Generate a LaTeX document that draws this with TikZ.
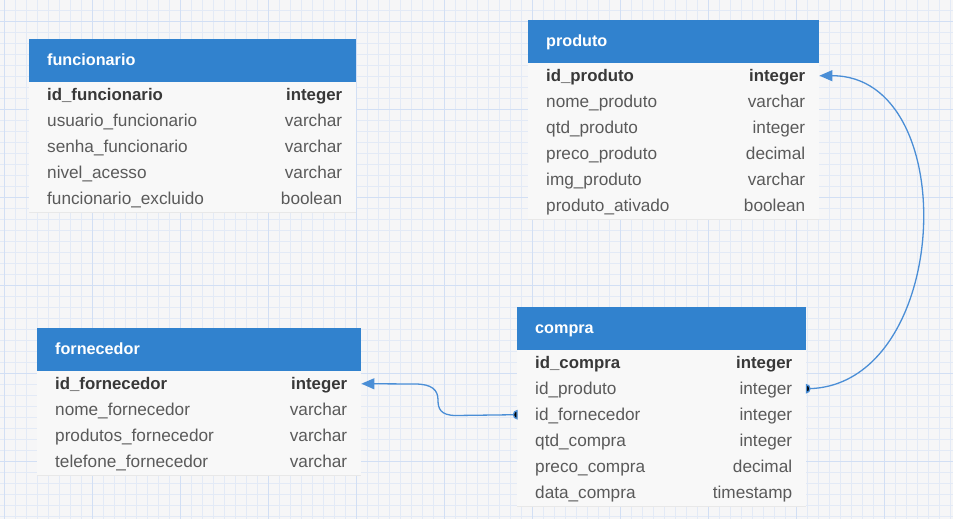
\documentclass[tikz,border=0pt]{standalone}
\usepackage{fontspec}
\setmainfont{Liberation Sans}
\usetikzlibrary{arrows.meta,calc}
\definecolor{bgc}{HTML}{F6F6F7}
\definecolor{gridminor}{HTML}{E3EAF6}
\definecolor{gridmajor}{HTML}{D2DFF4}
\definecolor{hdr}{HTML}{3182CE}
\definecolor{rowbg}{HTML}{F8F8F8}
\definecolor{sepc}{HTML}{E8E8E8}
\definecolor{txt}{HTML}{5A5A5A}
\definecolor{keytxt}{HTML}{383838}
\definecolor{link}{HTML}{4A8ED6}
\tikzset{
  x=1pt, y=-1pt,
  hdrbox/.style={fill=hdr, draw=none, minimum height=43pt, inner sep=0pt, anchor=north west},
  hdrtext/.style={anchor=west, inner sep=0pt, text=white, text height=12pt, text depth=3.5pt,
    font=\bfseries\fontsize{16.2}{18}\selectfont},
  rowbox/.style={fill=rowbg, draw=none, minimum height=26pt, inner sep=0pt, anchor=north west},
  fieldtext/.style={anchor=west, inner sep=0pt, text=txt, text height=12pt, text depth=3.5pt,
    font=\fontsize{17.2}{19}\selectfont},
  typetext/.style={anchor=east, inner sep=0pt, text=txt, text height=12pt, text depth=3.5pt,
    font=\fontsize{17.2}{19}\selectfont},
  keyfield/.style={fieldtext, text=keytxt, font=\bfseries\fontsize{16.8}{19}\selectfont},
  keytype/.style={typetext, text=keytxt, font=\bfseries\fontsize{16.8}{19}\selectfont},
  sepline/.style={draw=sepc, line width=0.8pt},
  link/.style={draw=link, line width=1.3pt},
  tip/.style={-{Triangle[length=13pt,width=11pt]}},
}
% #1 name, #2 x, #3 y, #4 width, #5 title, #6 key field, #7 key type, #8 other rows
\newcommand\erdtable[8]{%
  \node[hdrbox, minimum width=#4] (#1) at (#2,#3) {};
  \node[hdrtext] (#1-title) at ($(#1.west)+(18,1)$) {#5};
  \node[rowbox, minimum width=#4] (#1-1) at ($(#2,#3)+(0,43)$) {};
  \draw[sepline] (#1-1.south west) -- (#1-1.south east);
  \node[keyfield] (#1-1-n) at ($(#1-1.west)+(18,1.5)$) {#6};
  \node[keytype] (#1-1-t) at ($(#1-1.east)+(-14,1.5)$) {#7};
  \foreach \fld/\typ [count=\i from 2] in {#8} {
    \node[rowbox, minimum width=#4] (#1-\i) at ($(#2,#3)+(0,{43+26*(\i-1)})$) {};
    \draw[sepline] (#1-\i.south west) -- (#1-\i.south east);
    \node[fieldtext] (#1-\i-n) at ($(#1-\i.west)+(18,1.5)$) {\fld};
    \node[typetext] (#1-\i-t) at ($(#1-\i.east)+(-14,1.5)$) {\typ};
  }
}
\begin{document}
\begin{tikzpicture}
\useasboundingbox (0,0) rectangle (953,519);
\fill[bgc] (0,0) rectangle (953,519);
\foreach \i in {0,...,86} \draw[gridminor, line width=0.8pt] ({4+11*\i},0) -- ({4+11*\i},519);
\foreach \i in {0,...,46} \draw[gridminor, line width=0.8pt] (0,{10.7+11*\i}) -- (953,{10.7+11*\i});
\foreach \i in {0,...,10} \draw[gridmajor, line width=0.9pt] ({4+88*\i},0) -- ({4+88*\i},519);
\foreach \i in {0,...,5} \draw[gridmajor, line width=0.9pt] (0,{21.7+88*\i}) -- (953,{21.7+88*\i});

\erdtable{funcionario}{29}{39}{327}{funcionario}{id\_funcionario}{integer}%
  {usuario\_funcionario/varchar, senha\_funcionario/varchar, nivel\_acesso/varchar, funcionario\_excluido/boolean}
\erdtable{produto}{528}{19.5}{291}{produto}{id\_produto}{integer}%
  {nome\_produto/varchar, qtd\_produto/integer, preco\_produto/decimal, img\_produto/varchar, produto\_ativado/boolean}
\erdtable{fornecedor}{37}{327.5}{324}{fornecedor}{id\_fornecedor}{integer}%
  {nome\_fornecedor/varchar, produtos\_fornecedor/varchar, telefone\_fornecedor/varchar}
\erdtable{compra}{517}{306.5}{289}{compra}{id\_compra}{integer}%
  {id\_produto/integer, id\_fornecedor/integer, qtd\_compra/integer, preco\_compra/decimal, data\_compra/timestamp}

% connectors
\draw[link, tip] (compra-2.east) .. controls +(145,0) and +(145,0) .. (produto-1.east);
\fill[link] (compra-2.east) ++(0,-4) arc[start angle=-90, end angle=90, x radius=3.5, y radius=4] -- cycle;

\draw[link, tip] (compra-3.west) -- (456,415.5) .. controls (440,415.5) and (438,408) .. (438,400)
  .. controls (438,390) and (432,384) .. (415,384) -- (fornecedor-1.east);
\fill[link] (compra-3.west) ++(0,-4) arc[start angle=-90, end angle=-270, x radius=3.5, y radius=4] -- cycle;
\end{tikzpicture}
\end{document}
